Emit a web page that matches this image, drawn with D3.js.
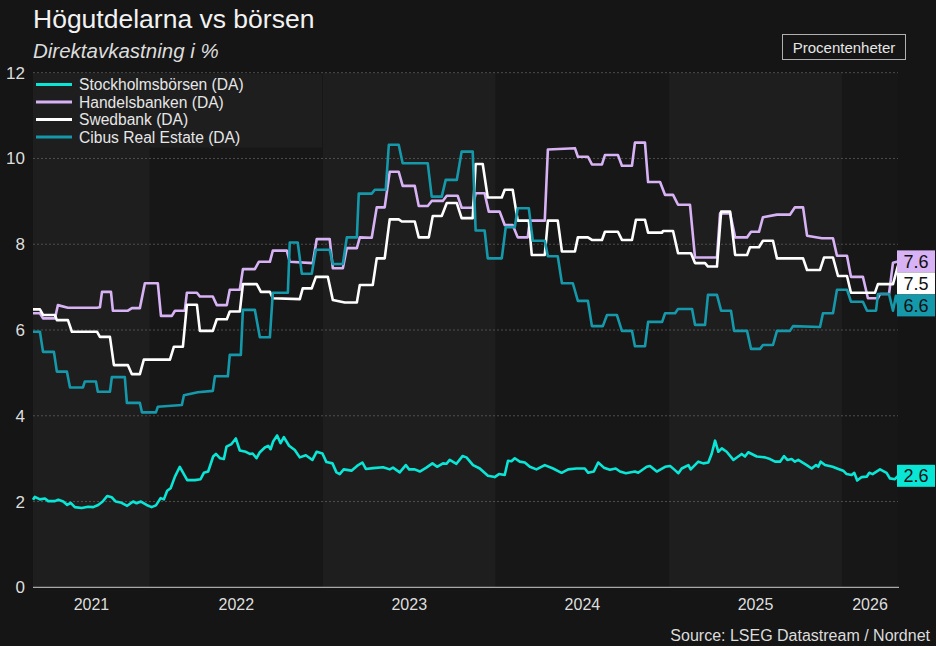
<!DOCTYPE html>
<html>
<head>
<meta charset="utf-8">
<script src="https://cdn.jsdelivr.net/npm/d3@7"></script>
<style>
  html, body { margin: 0; padding: 0; background: #151515; }
  svg { display: block; font-family: "Liberation Sans", Arial, sans-serif; }
</style>
</head>
<body>
<script>
// ---------------------------------------------------------------
// data (time as decimal year, value in %)
// ---------------------------------------------------------------
var seriesNames = ["Stockholmsbörsen (DA)", "Handelsbanken (DA)", "Swedbank (DA)", "Cibus Real Estate (DA)"]
var seriesColors = ["#0ae6d6", "#d7b2f4", "#ffffff", "#1598aa"]
var yTicks = [0, 2, 4, 6, 8, 10, 12]

var stockholm = [[2021.324,2.04],[2021.335,2.11],[2021.364,2.05],[2021.393,2.07],[2021.412,2.01],[2021.451,2.01],[2021.470,2.04],[2021.499,2.00],[2021.522,1.92],[2021.542,1.97],[2021.566,1.87],[2021.605,1.85],[2021.643,1.88],[2021.672,1.87],[2021.701,1.92],[2021.727,2.00],[2021.753,2.13],[2021.779,2.10],[2021.803,2.00],[2021.836,1.97],[2021.869,1.90],[2021.903,2.00],[2021.923,1.96],[2021.948,2.00],[2021.981,1.92],[2022.010,1.87],[2022.035,1.91],[2022.062,2.08],[2022.081,2.05],[2022.100,2.25],[2022.120,2.31],[2022.145,2.58],[2022.173,2.81],[2022.216,2.50],[2022.260,2.50],[2022.293,2.52],[2022.312,2.67],[2022.337,2.70],[2022.366,3.05],[2022.382,3.11],[2022.405,3.01],[2022.428,2.99],[2022.443,3.28],[2022.472,3.34],[2022.497,3.47],[2022.520,3.19],[2022.555,3.16],[2022.578,3.11],[2022.594,3.12],[2022.617,3.01],[2022.636,3.15],[2022.665,3.26],[2022.684,3.30],[2022.698,3.22],[2022.713,3.40],[2022.736,3.54],[2022.756,3.36],[2022.775,3.50],[2022.805,3.30],[2022.838,3.20],[2022.867,3.03],[2022.902,3.08],[2022.940,2.97],[2022.964,3.16],[2022.998,3.12],[2023.021,2.92],[2023.056,2.89],[2023.079,2.68],[2023.098,2.64],[2023.121,2.75],[2023.166,2.72],[2023.198,2.83],[2023.229,2.91],[2023.249,2.76],[2023.291,2.78],[2023.349,2.80],[2023.387,2.75],[2023.406,2.79],[2023.445,2.68],[2023.480,2.85],[2023.499,2.75],[2023.532,2.75],[2023.561,2.70],[2023.599,2.79],[2023.634,2.89],[2023.661,2.81],[2023.695,2.89],[2023.715,2.88],[2023.734,2.97],[2023.773,2.88],[2023.808,3.06],[2023.831,3.03],[2023.869,2.85],[2023.908,2.77],[2023.955,2.60],[2023.994,2.57],[2024.019,2.64],[2024.052,2.62],[2024.071,2.95],[2024.091,2.94],[2024.110,3.01],[2024.139,2.93],[2024.168,2.91],[2024.197,2.81],[2024.235,2.75],[2024.283,2.85],[2024.331,2.77],[2024.380,2.67],[2024.418,2.75],[2024.466,2.77],[2024.514,2.77],[2024.533,2.67],[2024.566,2.70],[2024.591,2.91],[2024.624,2.79],[2024.659,2.74],[2024.692,2.77],[2024.717,2.70],[2024.751,2.66],[2024.803,2.70],[2024.822,2.67],[2024.871,2.81],[2024.890,2.83],[2024.929,2.70],[2024.977,2.81],[2025.006,2.83],[2025.029,2.75],[2025.054,2.66],[2025.073,2.77],[2025.112,2.85],[2025.125,2.75],[2025.169,2.93],[2025.198,2.89],[2025.227,2.91],[2025.247,3.12],[2025.266,3.42],[2025.285,3.16],[2025.305,3.24],[2025.333,3.16],[2025.372,2.97],[2025.420,3.11],[2025.439,3.05],[2025.458,3.15],[2025.507,3.05],[2025.555,3.03],[2025.584,2.99],[2025.613,2.93],[2025.642,2.93],[2025.665,3.06],[2025.684,2.97],[2025.709,2.99],[2025.728,2.93],[2025.747,2.97],[2025.796,2.85],[2025.825,2.77],[2025.850,2.85],[2025.863,2.81],[2025.877,2.93],[2025.902,2.85],[2025.946,2.81],[2025.979,2.76],[2026.007,2.72],[2026.027,2.64],[2026.056,2.62],[2026.071,2.67],[2026.088,2.49],[2026.114,2.57],[2026.143,2.58],[2026.158,2.67],[2026.177,2.64],[2026.220,2.75],[2026.258,2.67],[2026.277,2.54],[2026.306,2.52],[2026.324,2.60]]

var handelsbanken = [[2021.324,6.39],[2021.364,6.39],[2021.382,6.27],[2021.451,6.27],[2021.468,6.58],[2021.526,6.52],[2021.694,6.52],[2021.711,6.53],[2021.723,6.89],[2021.775,6.89],[2021.786,6.45],[2021.873,6.45],[2021.896,6.51],[2021.942,6.51],[2021.971,7.09],[2022.046,7.09],[2022.064,6.33],[2022.127,6.33],[2022.145,6.45],[2022.202,6.45],[2022.214,6.87],[2022.272,6.87],[2022.289,6.78],[2022.364,6.78],[2022.387,6.58],[2022.445,6.58],[2022.462,6.94],[2022.520,6.94],[2022.538,7.42],[2022.607,7.42],[2022.630,7.59],[2022.694,7.59],[2022.711,7.85],[2022.792,7.85],[2022.809,7.59],[2022.942,7.56],[2022.965,8.12],[2023.040,8.12],[2023.058,7.44],[2023.116,7.44],[2023.139,7.91],[2023.197,7.91],[2023.214,8.16],[2023.283,8.15],[2023.312,8.86],[2023.358,8.86],[2023.387,9.69],[2023.439,9.69],[2023.462,9.36],[2023.532,9.36],[2023.555,8.89],[2023.607,8.89],[2023.630,9.01],[2023.694,9.01],[2023.717,9.13],[2023.780,9.13],[2023.803,8.85],[2023.867,8.85],[2023.884,9.19],[2023.936,9.19],[2023.960,8.76],[2024.023,8.76],[2024.052,8.45],[2024.098,8.45],[2024.127,8.16],[2024.185,8.16],[2024.197,8.55],[2024.283,8.55],[2024.301,10.21],[2024.457,10.24],[2024.474,10.04],[2024.532,10.04],[2024.555,9.86],[2024.613,9.86],[2024.630,10.08],[2024.705,10.08],[2024.728,9.83],[2024.786,9.83],[2024.803,10.37],[2024.861,10.37],[2024.879,9.45],[2024.948,9.45],[2024.977,9.15],[2025.023,9.15],[2025.052,8.92],[2025.121,8.92],[2025.150,7.69],[2025.277,7.69],[2025.295,8.72],[2025.353,8.72],[2025.382,8.16],[2025.451,8.16],[2025.474,8.29],[2025.520,8.29],[2025.543,8.63],[2025.624,8.69],[2025.699,8.69],[2025.728,8.86],[2025.775,8.86],[2025.798,8.20],[2025.884,8.14],[2025.948,8.14],[2025.971,7.73],[2026.029,7.73],[2026.052,7.24],[2026.121,7.24],[2026.150,6.74],[2026.208,6.74],[2026.220,6.84],[2026.272,6.84],[2026.295,7.57],[2026.324,7.60]]

var swedbank = [[2021.324,6.48],[2021.364,6.48],[2021.382,6.35],[2021.451,6.35],[2021.462,6.23],[2021.526,6.23],[2021.549,5.96],[2021.694,5.96],[2021.711,5.84],[2021.769,5.84],[2021.792,5.18],[2021.873,5.18],[2021.896,4.97],[2021.942,4.97],[2021.965,5.31],[2022.116,5.31],[2022.139,5.61],[2022.191,5.61],[2022.214,6.59],[2022.272,6.59],[2022.289,5.98],[2022.364,5.98],[2022.387,6.25],[2022.445,6.25],[2022.462,6.43],[2022.520,6.43],[2022.538,7.07],[2022.618,7.07],[2022.642,6.89],[2022.694,6.89],[2022.711,6.74],[2022.867,6.72],[2022.884,6.97],[2022.936,6.97],[2022.960,7.24],[2023.029,7.24],[2023.058,6.70],[2023.127,6.64],[2023.197,6.64],[2023.214,7.05],[2023.289,7.05],[2023.312,7.67],[2023.358,7.67],[2023.387,8.58],[2023.439,8.58],[2023.457,8.53],[2023.532,8.53],[2023.555,8.16],[2023.613,8.16],[2023.636,8.66],[2023.688,8.66],[2023.717,8.96],[2023.775,8.96],[2023.803,8.61],[2023.867,8.61],[2023.884,9.87],[2023.925,9.87],[2023.954,9.09],[2024.035,9.09],[2024.052,9.27],[2024.098,9.27],[2024.127,8.55],[2024.191,8.55],[2024.208,7.75],[2024.283,7.75],[2024.301,8.55],[2024.358,8.55],[2024.382,7.83],[2024.457,7.83],[2024.474,8.16],[2024.532,8.16],[2024.555,8.10],[2024.613,8.10],[2024.630,8.29],[2024.705,8.29],[2024.728,8.10],[2024.786,8.10],[2024.809,8.57],[2024.861,8.57],[2024.879,8.27],[2024.960,8.27],[2024.965,8.31],[2025.023,8.31],[2025.052,7.79],[2025.127,7.79],[2025.150,7.56],[2025.208,7.56],[2025.225,7.48],[2025.277,7.48],[2025.301,8.76],[2025.353,8.76],[2025.382,7.75],[2025.451,7.75],[2025.468,7.93],[2025.520,7.93],[2025.543,8.08],[2025.601,8.08],[2025.624,7.67],[2025.775,7.67],[2025.798,7.40],[2025.873,7.40],[2025.896,7.69],[2025.948,7.69],[2025.977,7.26],[2026.029,7.26],[2026.052,6.87],[2026.191,6.87],[2026.208,7.07],[2026.295,7.07],[2026.324,7.50]]

var cibus = [[2021.324,5.96],[2021.364,5.96],[2021.382,5.49],[2021.445,5.49],[2021.462,5.03],[2021.520,5.03],[2021.538,4.66],[2021.613,4.66],[2021.624,4.80],[2021.688,4.80],[2021.699,4.56],[2021.769,4.56],[2021.780,4.90],[2021.855,4.90],[2021.867,4.30],[2021.942,4.30],[2021.954,4.08],[2022.035,4.08],[2022.046,4.21],[2022.185,4.25],[2022.197,4.48],[2022.277,4.55],[2022.364,4.58],[2022.376,4.92],[2022.451,4.92],[2022.462,5.42],[2022.526,5.42],[2022.538,6.47],[2022.607,6.47],[2022.636,5.83],[2022.694,5.83],[2022.711,6.87],[2022.798,6.87],[2022.809,8.04],[2022.855,8.04],[2022.879,7.31],[2022.936,7.31],[2022.960,7.87],[2023.040,7.87],[2023.058,7.54],[2023.116,7.54],[2023.139,8.16],[2023.197,8.16],[2023.208,9.18],[2023.283,9.18],[2023.301,9.27],[2023.364,9.27],[2023.382,10.32],[2023.439,10.32],[2023.462,9.89],[2023.607,9.89],[2023.630,9.11],[2023.688,9.11],[2023.711,9.50],[2023.775,9.50],[2023.803,10.16],[2023.867,10.16],[2023.884,8.32],[2023.936,8.32],[2023.954,7.67],[2024.035,7.67],[2024.058,8.40],[2024.110,8.40],[2024.127,8.84],[2024.191,8.84],[2024.214,8.08],[2024.283,8.08],[2024.301,7.72],[2024.358,7.72],[2024.382,7.09],[2024.445,7.09],[2024.474,6.68],[2024.532,6.68],[2024.555,6.09],[2024.618,6.09],[2024.642,6.35],[2024.699,6.35],[2024.728,5.98],[2024.786,5.98],[2024.803,5.62],[2024.861,5.62],[2024.879,6.19],[2024.960,6.19],[2024.977,6.39],[2025.035,6.39],[2025.052,6.49],[2025.133,6.49],[2025.150,6.12],[2025.208,6.12],[2025.225,6.82],[2025.277,6.82],[2025.301,6.45],[2025.358,6.45],[2025.376,5.98],[2025.451,5.98],[2025.474,5.56],[2025.526,5.56],[2025.543,5.65],[2025.601,5.65],[2025.624,5.98],[2025.699,5.98],[2025.717,6.09],[2025.873,6.07],[2025.890,6.39],[2025.948,6.39],[2025.971,6.94],[2026.029,6.94],[2026.052,6.66],[2026.121,6.66],[2026.145,6.45],[2026.197,6.45],[2026.208,6.84],[2026.272,6.84],[2026.295,6.45],[2026.312,6.80],[2026.324,6.60]]

var allSeries = [stockholm, handelsbanken, swedbank, cibus]

// ---------------------------------------------------------------
// helpers
// ---------------------------------------------------------------
function toDate (t) {
	var yr = Math.floor(t)
	  , a = new Date(yr, 0, 1)
	  , b = new Date(yr + 1, 0, 1)
	return new Date(+a + (t - yr) * (b - a))
}

// ---------------------------------------------------------------
// setup
// ---------------------------------------------------------------
var W = 936, H = 646
  , pLeft = 33, pRight = 898, pTop = 72.7, pBottom = 587.3
  , font = '"Liberation Sans", Arial, sans-serif'

var svg = d3.select("body").append("svg")
	.attr("width", W)
	.attr("height", H)

svg.append("rect").attr("width", W).attr("height", H).attr("fill", "#151515")

var t0 = toDate(stockholm[0][0])
  , t1 = toDate(stockholm[stockholm.length - 1][0])

var x = d3.scaleTime().domain([t0, t1]).range([pLeft, pRight])
var y = d3.scaleLinear().domain([0, 12]).range([pBottom, pTop])

// year bands
var years = d3.range(t0.getFullYear(), t1.getFullYear() + 1).map(function (yr, i) {
	var a = new Date(yr, 0, 1), b = new Date(yr + 1, 0, 1)
	return { year: yr, i: i, a: a < t0 ? t0 : a, b: b > t1 ? t1 : b }
})

svg.selectAll("rect.band").data(years).enter().append("rect")
	.attr("class", "band")
	.attr("x", function (d) { return x(d.a) })
	.attr("width", function (d) { return x(d.b) - x(d.a) })
	.attr("y", pTop)
	.attr("height", pBottom - pTop)
	.attr("fill", function (d) { return d.i % 2 == 0 ? "#1e1e1e" : "#171717" })

// grid
svg.selectAll("line.grid").data(yTicks.filter(function (v) { return v > 0 })).enter().append("line")
	.attr("x1", pLeft).attr("x2", pRight)
	.attr("y1", function (v) { return y(v) }).attr("y2", function (v) { return y(v) })
	.attr("stroke", "#5c5c5c")
	.attr("stroke-width", 0.8)
	.attr("stroke-dasharray", "2,2")

// y tick labels
svg.selectAll("text.ylab").data(yTicks).enter().append("text")
	.attr("x", 25)
	.attr("y", function (v) { return y(v) + 6 })
	.attr("text-anchor", "end")
	.attr("fill", "#dedede")
	.style("font", "17px " + font)
	.text(function (v) { return v })

// x labels, centred in each visible year
svg.selectAll("text.xlab").data(years).enter().append("text")
	.attr("x", function (d) { return (x(d.a) + x(d.b)) / 2 })
	.attr("y", 610)
	.attr("text-anchor", "middle")
	.attr("fill", "#dedede")
	.style("font", "16px " + font)
	.text(function (d) { return d.year })

// axis line
svg.append("line")
	.attr("x1", pLeft).attr("x2", pRight + 1)
	.attr("y1", pBottom).attr("y2", pBottom)
	.attr("stroke", "#a8a8a8").attr("stroke-width", 1.2)

// legend background
svg.append("rect")
	.attr("x", pLeft).attr("y", pTop + 1)
	.attr("width", 289).attr("height", 74)
	.attr("fill", "#1e1e1e")

// ---------------------------------------------------------------
// lines
// ---------------------------------------------------------------
var line = d3.line()
	.x(function (d) { return x(toDate(d[0])) })
	.y(function (d) { return y(d[1]) })

allSeries.forEach(function (s, i) {
	svg.append("path")
		.datum(s)
		.attr("d", line)
		.attr("fill", "none")
		.attr("stroke", seriesColors[i])
		.attr("stroke-width", 2.6)
		.attr("stroke-linejoin", "round")
})

// legend
var leg = svg.selectAll("g.leg").data(seriesNames).enter().append("g")
	.attr("transform", function (d, i) { return "translate(0," + (84.5 + i * 17.5) + ")" })
leg.append("line")
	.attr("x1", 36).attr("x2", 72)
	.attr("stroke", function (d, i) { return seriesColors[i] })
	.attr("stroke-width", 3)
leg.append("text")
	.attr("x", 79).attr("y", 5.5)
	.attr("fill", "#e6e6e6")
	.style("font", "15.6px " + font)
	.text(function (d) { return d })

// end value labels, pushed apart so they do not overlap
var ends = allSeries.map(function (s, i) {
	return { v: s[s.length - 1][1], c: seriesColors[i] }
}).sort(function (a, b) { return b.v - a.v })

var bh = 22, prev = -1e9
ends.forEach(function (e) {
	e.yy = Math.max(y(e.v), prev + bh)
	prev = e.yy
})

var lab = svg.selectAll("g.endlab").data(ends).enter().append("g")
	.attr("transform", function (d) { return "translate(897," + d.yy + ")" })
lab.append("rect")
	.attr("x", 0).attr("y", -bh / 2)
	.attr("width", 38).attr("height", bh)
	.attr("fill", function (d) { return d.c })
lab.append("text")
	.attr("x", 19).attr("y", 6.5)
	.attr("text-anchor", "middle")
	.attr("fill", "#111")
	.style("font", "18px " + font)
	.text(function (d) { return d.v.toFixed(1) })

// ---------------------------------------------------------------
// titles
// ---------------------------------------------------------------
svg.append("text")
	.attr("x", 33).attr("y", 28)
	.attr("fill", "#f2f2f2")
	.style("font", "26.5px " + font)
	.text("Högutdelarna vs börsen")

svg.append("text")
	.attr("x", 33).attr("y", 58)
	.attr("fill", "#dcdcdc")
	.style("font", "italic 20.5px " + font)
	.text("Direktavkastning i %")

svg.append("rect")
	.attr("x", 782.5).attr("y", 34.5)
	.attr("width", 123).attr("height", 25)
	.attr("fill", "none")
	.attr("stroke", "#b0b0b0")
	.attr("stroke-width", 1)
svg.append("text")
	.attr("x", 844).attr("y", 52.5)
	.attr("text-anchor", "middle")
	.attr("fill", "#e6e6e6")
	.style("font", "15px " + font)
	.text("Procentenheter")

svg.append("text")
	.attr("x", 930).attr("y", 641)
	.attr("text-anchor", "end")
	.attr("fill", "#dcdcdc")
	.style("font", "16px " + font)
	.text("Source: LSEG Datastream / Nordnet")
</script>
</body>
</html>
